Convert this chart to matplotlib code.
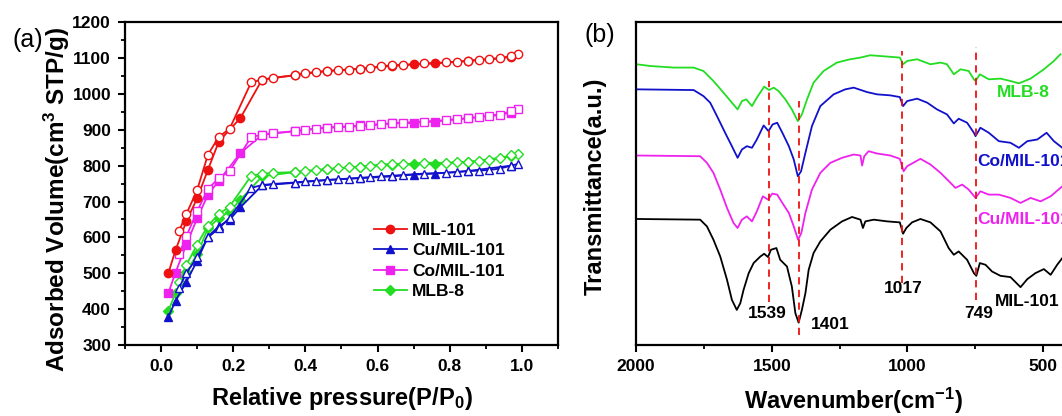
import matplotlib
matplotlib.use("Agg")
import matplotlib.pyplot as plt
from matplotlib.ticker import MultipleLocator

plt.rcParams['font.family'] = ['Liberation Sans', 'DejaVu Sans']
plt.rcParams['font.weight'] = 'bold'
plt.rcParams['axes.labelweight'] = 'bold'
plt.rcParams['mathtext.fontset'] = 'custom'
plt.rcParams['mathtext.rm'] = 'Liberation Sans:bold'
plt.rcParams['mathtext.bf'] = 'Liberation Sans:bold'
plt.rcParams['mathtext.default'] = 'bf'

# ---- (a) N2 isotherms ----
p_ads = [0.02, 0.04, 0.07, 0.10, 0.13, 0.16, 0.22, 0.28, 0.37, 0.46, 0.55, 0.64, 0.70, 0.76, 0.85, 0.97]
p_ads2 = [0.02, 0.04, 0.07, 0.10, 0.13, 0.16, 0.19, 0.22, 0.28, 0.37, 0.46, 0.55, 0.64, 0.70, 0.76, 0.85, 0.97]
p_des = [0.99, 0.97, 0.94, 0.91, 0.88, 0.85, 0.82, 0.79, 0.73, 0.67, 0.64, 0.61, 0.58, 0.55, 0.52,
         0.49, 0.46, 0.43, 0.40, 0.37, 0.31, 0.28, 0.25, 0.19, 0.16, 0.13, 0.10, 0.07, 0.05]

mil_ads = [500, 564, 645, 709, 789, 867, 933, 1040, 1052, 1064, 1070, 1078, 1082, 1085, 1092, 1103]
mil_des = [1110, 1106, 1099, 1096, 1095, 1092, 1090, 1088, 1085, 1081, 1080, 1077, 1072, 1070, 1068,
           1066, 1064, 1061, 1058, 1052, 1045, 1039, 1033, 903, 880, 831, 732, 665, 618]
co_ads = [444, 502, 580, 653, 719, 758, 835, 886, 896, 906, 912, 918, 919, 923, 932, 947]
co_des = [958, 953, 941, 938, 935, 932, 930, 927, 923, 920, 918, 915, 912, 910, 908,
          907, 906, 903, 900, 896, 891, 886, 880, 785, 765, 735, 673, 603, 554]
mlb_ads = [395, 444, 504, 553, 625, 654, 672, 705, 770, 782, 790, 797, 802, 804, 805, 810, 826]
mlb_des = [832, 830, 820, 815, 813, 810, 810, 808, 808, 804, 805, 803, 800, 797, 795,
           793, 790, 788, 785, 782, 780, 777, 772, 686, 665, 633, 580, 523, 475]
cu_ads = [378, 423, 476, 535, 602, 631, 649, 684, 745, 752, 760, 765, 770, 775, 778, 785, 800]
cu_des = [805, 800, 792, 788, 786, 785, 782, 780, 778, 774, 772, 770, 768, 766, 764,
          762, 760, 758, 756, 753, 749, 746, 738, 655, 625, 600, 545, 500, 460]

# ---- (b) FTIR ----
w_mil = [1998, 1764, 1739, 1715, 1690, 1665, 1647, 1629, 1616, 1604, 1585, 1567, 1542, 1528, 1514, 1503,
         1483, 1469, 1444, 1426, 1413, 1401, 1389, 1376, 1364, 1346, 1321, 1284, 1241, 1204, 1173, 1164,
         1155, 1124, 1075, 1028, 1016, 1004, 983, 952, 915, 878, 848, 829, 811, 780, 755, 746, 733, 712,
         688, 657, 620, 583, 558, 528, 497, 472, 448, 429]
t_mil = [125.7, 125, 118.3, 105, 88.3, 65, 45, 35, 41.7, 55, 71.7, 81.7, 88.3, 91, 87.7, 95,
         96.7, 85, 78.3, 58.3, 31.7, 22.3, 35, 51.7, 75, 91.7, 103.3, 115, 123.3, 127.7, 125, 116.7,
         123.3, 125, 123.3, 122.3, 111, 116.7, 122.3, 125.7, 122.3, 113.3, 96.7, 90, 93.3, 85, 71.7, 69, 81.7, 80,
         73.3, 69, 67.7, 57.7, 65.7, 71.7, 75.7, 70, 80, 86.7]
w_cu = [1998, 1764, 1739, 1715, 1690, 1665, 1641, 1626, 1610, 1592, 1573, 1555, 1533, 1514, 1498, 1480,
        1461, 1437, 1419, 1403, 1391, 1376, 1352, 1321, 1284, 1241, 1198, 1173, 1167, 1159, 1143, 1112,
        1063, 1028, 1014, 1001, 952, 915, 878, 841, 823, 798, 774, 749, 731, 700, 663, 620, 583, 546,
        509, 472, 429]
t_cu = [189, 188.3, 181.7, 171.7, 155, 136.7, 121.7, 116.7, 125, 128.3, 123.3, 133.3, 148.3, 145, 151, 150,
        141.7, 131.7, 118.3, 105, 111.7, 131.7, 155, 171.7, 181.7, 186.7, 190, 189, 179, 188.3, 193.3, 191,
        189, 185.7, 173.3, 178.3, 185.7, 180, 171.7, 161.7, 156.7, 160, 155, 146.7, 153.3, 150, 150, 146.7, 141.7, 146.7,
        143.3, 148.3, 158.3]
w_co = [1998, 1788, 1752, 1727, 1702, 1672, 1647, 1626, 1610, 1592, 1573, 1555, 1530, 1512, 1497, 1480,
        1461, 1437, 1419, 1404, 1392, 1376, 1352, 1321, 1272, 1229, 1198, 1149, 1112, 1063, 1028, 1016,
        1001, 964, 927, 891, 854, 829, 811, 780, 755, 749, 731, 700, 663, 620, 589, 558, 521, 487,
        460, 429]
t_co = [255, 254.3, 248.3, 241.7, 228.3, 211.7, 198.3, 186.7, 195, 198.3, 196.7, 205, 219, 213.3, 220, 221.7,
        211.7, 198.3, 185, 168.3, 173.3, 191.7, 218.3, 238.3, 250, 255, 256.7, 252.3, 250, 249, 247.3, 238.3,
        243.3, 245.7, 241.7, 235, 230, 221, 225.7, 221.7, 211.7, 208.3, 216.7, 211.7, 203.3, 201.7, 196.7, 203.3, 205, 211.7,
        203.3, 196.7]
w_mlb = [1998, 1948, 1862, 1788, 1752, 1715, 1678, 1647, 1626, 1610, 1594, 1573, 1555, 1528, 1510, 1493,
         1475, 1450, 1426, 1404, 1389, 1370, 1346, 1309, 1260, 1211, 1173, 1137, 1075, 1028, 1016, 1001,
         964, 915, 878, 854, 829, 804, 774, 755, 749, 733, 700, 657, 620, 589, 546, 497, 460, 436]
t_mlb = [280, 278.3, 276.7, 276.7, 273.3, 263.3, 251.7, 241.7, 235, 243.3, 245, 238.3, 246.7, 257.7, 254.3, 256.7,
         253.3, 245, 235, 223.3, 230, 245, 261.7, 273.3, 281.7, 285, 286.7, 289, 287.7, 286.7, 280, 283.3,
         285, 280, 281.7, 280, 270, 275, 273.3, 265, 263.3, 270, 265, 265.7, 263.3, 261, 265.7, 275, 283.3, 290]

peak_pos = [1512, 1398, 1021, 749]
peak_labels = ['1539', '1401', '1017', '749']

red, blue, pink, green = '#ee1111', '#1111cc', '#ee22ee', '#22dd22'

fig = plt.figure(figsize=(10.62, 4.16), dpi=100)
ax1 = fig.add_axes([0.1177, 0.1707, 0.4077, 0.776])
ax2 = fig.add_axes([0.599, 0.1707, 0.4087, 0.776])

ms = 6
series = [
    ('MIL-101', p_ads, mil_ads, mil_des, red, 'o'),
    ('Cu/MIL-101', p_ads2, cu_ads, cu_des, blue, '^'),
    ('Co/MIL-101', p_ads, co_ads, co_des, pink, 's'),
    ('MLB-8', p_ads2, mlb_ads, mlb_des, green, 'D'),
]
handles = []
for name, px, ads, des, c, m in series[::-1]:
    msz = ms - 1 if m == 'D' else ms
    h, = ax1.plot(px, ads, color=c, marker=m, ms=msz, lw=1.3, label=name)
    ax1.plot(p_des, des, color=c, marker=m, ms=msz, lw=1.3, mfc='white', mec=c, mew=1.0)
    handles.append(h)
ax1.legend(handles=handles[::-1], loc='upper left', bbox_to_anchor=(0.555, 0.405), frameon=False,
           fontsize=12.5, borderpad=0, handlelength=1.9, handletextpad=0.3, labelspacing=0.3)

ax1.set_xlim(-0.1, 1.1)
ax1.set_ylim(300, 1200)
ax1.xaxis.set_major_locator(MultipleLocator(0.2))
ax1.xaxis.set_minor_locator(MultipleLocator(0.1))
ax1.yaxis.set_major_locator(MultipleLocator(100))
ax1.yaxis.set_minor_locator(MultipleLocator(50))
ax1.set_xlabel('Relative pressure(P/P$_0$)', fontsize=17, fontweight='bold')
ax1.set_ylabel('Adsorbed Volume(cm$^3$ STP/g)', fontsize=17.5, fontweight='bold')
ax1.xaxis.set_label_coords(0.5, -0.125)
ax1.yaxis.set_label_coords(-0.122, 0.45)

ax2.plot(w_mlb, t_mlb, color=green, lw=1.3)
ax2.plot(w_co, t_co, color=blue, lw=1.3)
ax2.plot(w_cu, t_cu, color=pink, lw=1.3)
ax2.plot(w_mil, t_mil, color='black', lw=1.3)
ax2.vlines(peak_pos[0], 43, 263, colors=red, linestyles=(0, (4, 3)), lw=1.3)
ax2.vlines(peak_pos[1], 10, 243, colors=red, linestyles=(0, (4, 3)), lw=1.3)
ax2.vlines(peak_pos[2], 62, 293, colors=red, linestyles=(0, (4, 3)), lw=1.3)
ax2.vlines(peak_pos[3], 45, 297, colors=red, linestyles=(0, (4, 3)), lw=1.3)
ax2.text(1517, 31.7, peak_labels[0], ha='center', va='center', fontsize=12.5)
ax2.text(1284, 20, peak_labels[1], ha='center', va='center', fontsize=12.5)
ax2.text(1014, 56.7, peak_labels[2], ha='center', va='center', fontsize=12.5)
ax2.text(737, 31.7, peak_labels[3], ha='center', va='center', fontsize=12.5)
ax2.text(558, 43, 'MIL-101', ha='center', va='center', fontsize=12.5)
ax2.text(743, 125, 'Cu/MIL-101', color=pink, ha='left', va='center', fontsize=12.5)
ax2.text(743, 183, 'Co/MIL-101', color=blue, ha='left', va='center', fontsize=12.5)
ax2.text(571, 251.7, 'MLB-8', color=green, ha='center', va='center', fontsize=12.5)
ax2.set_xlim(2000, 400)
ax2.set_ylim(0, 322)
ax2.xaxis.set_major_locator(MultipleLocator(500))
ax2.xaxis.set_minor_locator(MultipleLocator(250))
ax2.set_yticks([])
ax2.set_xlabel('Wavenumber(cm$^{-1}$)', fontsize=17, fontweight='bold')
ax2.set_ylabel('Transmittance(a.u.)', fontsize=17, fontweight='bold')
ax2.xaxis.set_label_coords(0.5, -0.125)
ax2.yaxis.set_label_coords(-0.067, 0.49)

for ax in (ax1, ax2):
    for s in ax.spines.values():
        s.set_linewidth(1.6)
    ax.tick_params(which='major', direction='out', length=5, width=1.5, labelsize=12.5, pad=5)
    ax.tick_params(which='minor', direction='out', length=3, width=1.3)

fig.text(0.026, 0.905, '(a)', fontsize=18, fontweight='normal', ha='center', va='center')
fig.text(0.565, 0.915, '(b)', fontsize=18, fontweight='normal', ha='center', va='center')

fig.savefig('out.png', dpi=100)
